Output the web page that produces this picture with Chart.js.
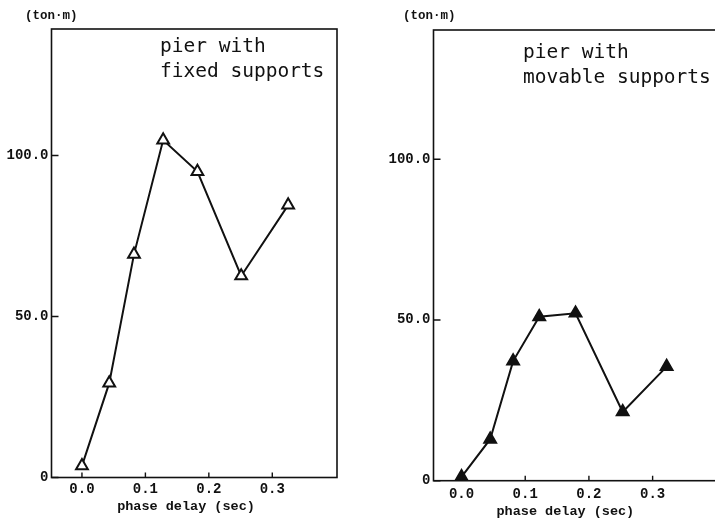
<!DOCTYPE html>
<html>
<head>
<meta charset="utf-8">
<script src="https://cdn.jsdelivr.net/npm/chart.js@4/dist/chart.umd.min.js"></script>
<style>
  html, body { margin: 0; padding: 0; background: #fff; overflow: hidden; width: 715px; height: 521px; }
  .panel { position: absolute; top: 0; height: 521px; }
  #wrapFixed { left: 0; width: 357px; }
  #wrapMovable { left: 357px; width: 400px; }
</style>
</head>
<body>
<div class="panel" id="wrapFixed"><canvas id="fixed"></canvas></div>
<div class="panel" id="wrapMovable"><canvas id="movable"></canvas></div>
<script>
// Tick values and their printed labels
const xTickValues = [0.0, 0.1, 0.2, 0.3];
const xTickLabels = ['0.0', '0.1', '0.2', '0.3'];
const yTickValues = [0, 50, 100];
const yTickLabels = ['0', '50.0', '100.0'];

// Pier with fixed supports: phase delay (sec) vs. moment (ton·m)
const fixedDelay  = [0.0, 0.043, 0.082, 0.128, 0.182, 0.251, 0.325];
const fixedMoment = [3.6, 29.3, 69.3, 104.8, 95.0, 62.6, 84.6];

// Pier with movable supports
const movableDelay  = [0.0, 0.045, 0.081, 0.122, 0.179, 0.253, 0.322];
const movableMoment = [1.2, 12.9, 37.2, 51.0, 52.1, 21.4, 35.5];

const unitLabel = '(ton\u00b7m)';
const xTitle = 'phase delay (sec)';
const fixedCaption = ['pier with', 'fixed supports'];
const movableCaption = ['pier with', 'movable supports'];

const MONO = '"Liberation Mono", "DejaVu Sans Mono", monospace';
const CAPTION_FONT = '19.5px "DejaVu Sans Mono", monospace';

// Frame, inward tick marks, unit label, axis title and caption
const panelDecor = {
  id: 'panelDecor',
  afterDatasetsDraw(chart, args, o) {
    const { ctx, chartArea: a, scales: { x, y } } = chart;
    ctx.save();
    ctx.strokeStyle = '#111';
    ctx.lineWidth = 1.6;
    ctx.strokeRect(a.left, a.top, a.right - a.left, a.bottom - a.top);

    ctx.lineWidth = 1.4;
    ctx.beginPath();
    xTickValues.forEach(v => {
      const px = x.getPixelForValue(v);
      ctx.moveTo(px, a.bottom);
      ctx.lineTo(px, a.bottom - 5);
    });
    yTickValues.forEach(v => {
      const py = y.getPixelForValue(v);
      ctx.moveTo(a.left, py);
      ctx.lineTo(a.left + 7, py);
    });
    ctx.stroke();

    ctx.fillStyle = '#111';
    ctx.textBaseline = 'middle';
    ctx.textAlign = 'left';
    ctx.font = 'bold 12.5px ' + MONO;
    ctx.fillText(unitLabel, a.left + o.unitDx, 16);

    ctx.textAlign = 'center';
    ctx.font = 'bold 13.5px ' + MONO;
    ctx.fillText(xTitle, x.getPixelForValue(o.titleAt), a.bottom + o.titleDy);

    ctx.textAlign = 'left';
    ctx.font = CAPTION_FONT;
    const cx = x.getPixelForValue(o.captionAt[0]);
    const cy = y.getPixelForValue(o.captionAt[1]);
    o.caption.forEach((line, i) => ctx.fillText(line, cx, cy + i * 25));
    ctx.restore();
  }
};

function makePanel(id, delay, moment, filled, geom) {
  return new Chart(document.getElementById(id), {
    type: 'line',
    data: {
      datasets: [{
        data: delay.map((d, i) => ({ x: d, y: moment[i] })),
        borderColor: '#111',
        borderWidth: 2,
        pointStyle: 'triangle',
        pointRadius: 6.8,
        pointBorderWidth: 2,
        pointBorderColor: '#111',
        pointBackgroundColor: filled ? '#111' : '#fff',
        tension: 0,
        fill: false
      }]
    },
    options: {
      responsive: true,
      maintainAspectRatio: false,
      animation: false,
      layout: { padding: { left: 0, right: geom.padRight, top: geom.top, bottom: 0 } },
      plugins: {
        legend: { display: false },
        tooltip: { enabled: false },
        panelDecor: geom.decor
      },
      scales: {
        x: {
          type: 'linear',
          min: geom.xMin,
          max: geom.xMax,
          afterBuildTicks: s => { s.ticks = xTickValues.map(v => ({ value: v })); },
          afterFit: s => { s.height = geom.xHeight; },
          grid: { display: false, drawTicks: false },
          border: { display: false },
          ticks: {
            autoSkip: false,
            maxRotation: 0,
            padding: geom.xPad,
            color: '#111',
            font: { family: MONO, size: 14, weight: 'bold' },
            callback: v => xTickLabels[xTickValues.indexOf(v)]
          }
        },
        y: {
          min: 0,
          max: geom.yMax,
          afterBuildTicks: s => { s.ticks = yTickValues.map(v => ({ value: v })); },
          afterFit: s => { s.width = geom.yWidth; },
          grid: { display: false, drawTicks: false },
          border: { display: false },
          ticks: {
            padding: 3,
            color: '#111',
            font: { family: MONO, size: 14, weight: 'bold' },
            callback: v => yTickLabels[yTickValues.indexOf(v)]
          }
        }
      }
    },
    plugins: [panelDecor]
  });
}

makePanel('fixed', fixedDelay, fixedMoment, false, {
  xMin: -0.048, xMax: 0.402, yMax: 139.3,
  top: 29, padRight: 20, xHeight: 43.5, yWidth: 51.5, xPad: 3.5,
  decor: { unitDx: -26.5, titleAt: 0.164, titleDy: 29.5, captionAt: [0.123, 133.7], caption: fixedCaption }
});

makePanel('movable', movableDelay, movableMoment, true, {
  xMin: -0.044, xMax: 0.405, yMax: 140.2,
  top: 30, padRight: 37.5, xHeight: 40.3, yWidth: 76.5, xPad: 5,
  decor: { unitDx: -30.5, titleAt: 0.163, titleDy: 31.3, captionAt: [0.0965, 133], caption: movableCaption }
});
</script>
</body>
</html>
